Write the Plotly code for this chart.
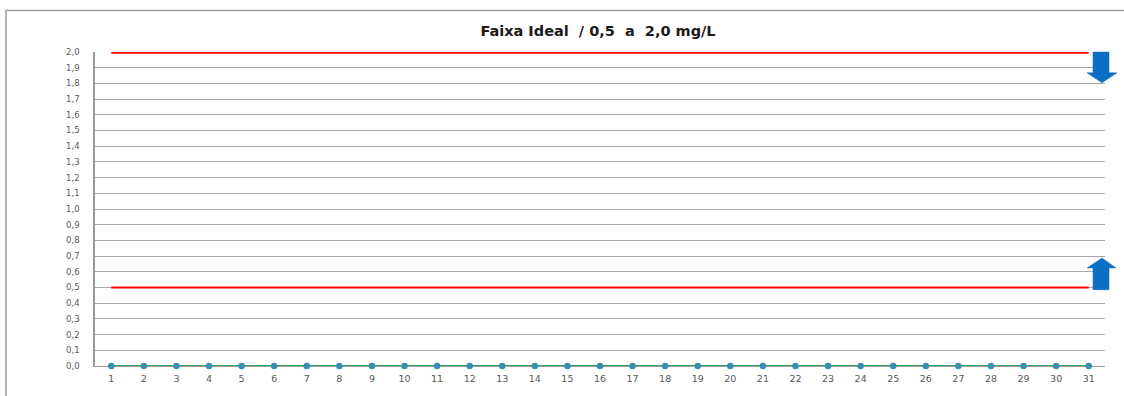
import plotly.graph_objects as go

days = list(range(1, 32))
measured = [0.0] * 31
lower_limit = [0.5] * 31
upper_limit = [2.0] * 31
y_tickvals = [round(i * 0.1, 1) for i in range(21)]
y_ticktext = [f"{v:.1f}".replace(".", ",") for v in y_tickvals]
title_text = "Faixa Ideal  / 0,5  a  2,0 mg/L"

W, H = 1124, 396
L, R, T, B = 95, 19, 52, 27
PW, PH = W - L - R, H - T - B


def px(x):
    return (x - L) / PW


def py(y):
    return (H - B - y) / PH


fig = go.Figure()
fig.add_trace(go.Scatter(x=days, y=upper_limit, mode="lines",
                         line=dict(color="#ff0000", width=3.5), hoverinfo="skip"))
fig.add_trace(go.Scatter(x=days, y=lower_limit, mode="lines",
                         line=dict(color="#ff0000", width=2.2), hoverinfo="skip"))
fig.add_trace(go.Scatter(x=days, y=measured, mode="lines+markers",
                         line=dict(color="#2eaa5a", width=2),
                         marker=dict(color="#3a8fb0", size=6.5), cliponaxis=False))

shapes = []
# outer frame
shapes.append(dict(type="rect", xref="paper", yref="paper",
                   x0=px(6), x1=px(1140), y0=py(410), y1=py(10),
                   line=dict(color="#9a9a9a", width=1.5), fillcolor="rgba(0,0,0,0)", layer="below"))
# arrows
down = [(1093, 52), (1109, 52), (1109, 73), (1117, 73), (1102, 83), (1087, 73), (1093, 73)]
up = [(1093, 292), (1109, 292), (1109, 270), (1116, 270), (1102, 260), (1087, 270), (1093, 270)]
for pts in (down, up):
    path = "M " + " L ".join(f"{px(a):.5f},{py(b):.5f}" for a, b in pts) + " Z"
    shapes.append(dict(type="path", xref="paper", yref="paper", path=path,
                       fillcolor="#0a6fc2", line=dict(color="#0a6fc2", width=0.5)))

fig.update_layout(
    width=W, height=H,
    margin=dict(l=L, r=R, t=T, b=B),
    paper_bgcolor="white", plot_bgcolor="white",
    showlegend=False,
    shapes=shapes,
    title=dict(text=f"<b>{title_text}</b>", x=px(598), xref="paper", xanchor="center",
               y=1 - 31 / H, yref="container", yanchor="middle",
               font=dict(family="DejaVu Sans", size=14.5, color="#1a1a1a")),
    font=dict(family="DejaVu Sans", size=8.5, color="#595959"),
)
fig.update_xaxes(range=[0.5, 31.5], tickmode="array", tickvals=days,
                 ticktext=[str(d) for d in days], showgrid=False, zeroline=False,
                 showline=True, linecolor="#9a9a9a", linewidth=1, layer="below traces",
                 ticks="", ticklabelstandoff=4, tickfont=dict(size=9.5, color="#595959"))
fig.update_yaxes(range=[0, 2.0], tickmode="array", tickvals=y_tickvals, ticktext=y_ticktext,
                 showgrid=True, gridcolor="#a6a6a6", gridwidth=1, zeroline=False,
                 showline=True, linecolor="#9a9a9a", linewidth=1.5, layer="below traces",
                 ticks="", ticklabelstandoff=12, tickfont=dict(size=8.5, color="#595959"))

fig.write_html("out.html", config={"displayModeBar": False},
               post_script="document.body.style.margin='0';")
